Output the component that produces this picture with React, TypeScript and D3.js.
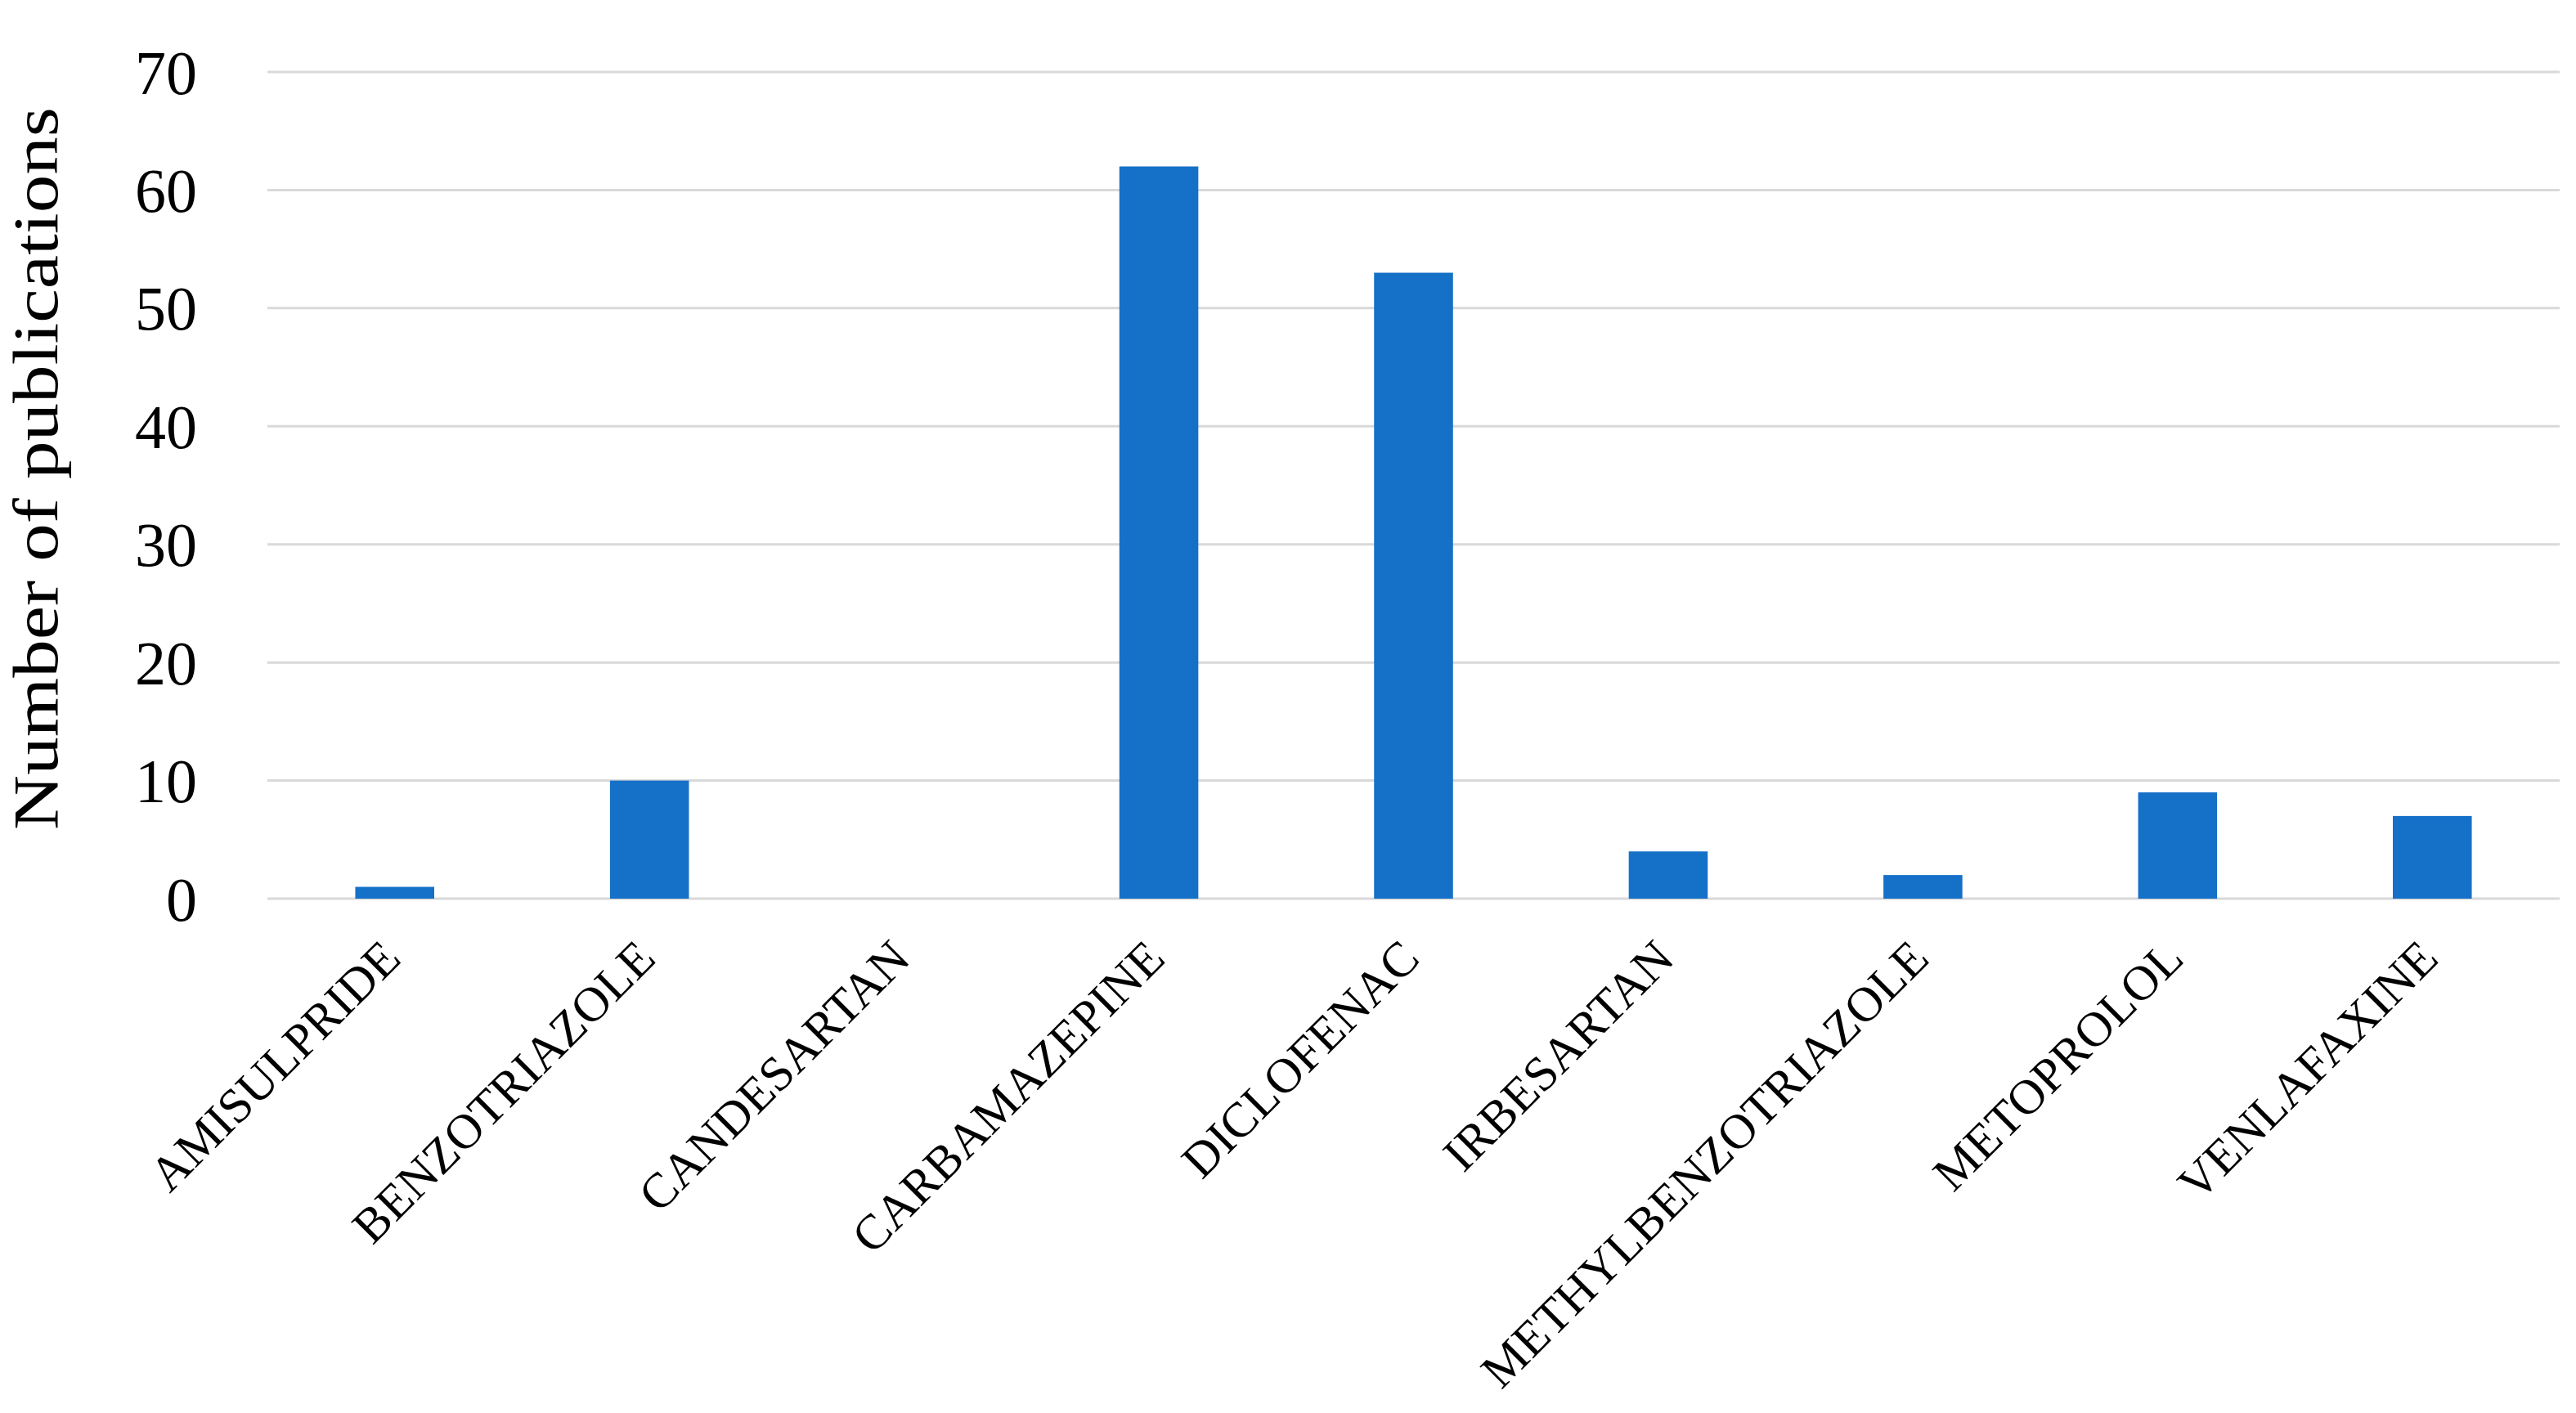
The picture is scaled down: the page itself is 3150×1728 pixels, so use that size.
import { useEffect, useRef } from "react";
import * as d3 from "d3";

const categories = [
  "AMISULPRIDE",
  "BENZOTRIAZOLE",
  "CANDESARTAN",
  "CARBAMAZEPINE",
  "DICLOFENAC",
  "IRBESARTAN",
  "METHYLBENZOTRIAZOLE",
  "METOPROLOL",
  "VENLAFAXINE",
];
const publications = [1, 10, 0, 62, 53, 4, 2, 9, 7];
const yTicks = [0, 10, 20, 30, 40, 50, 60, 70];

const width = 3150;
const height = 1728;
const font = "'Liberation Serif', 'DejaVu Serif', serif";

const App = () => {
  const ref = useRef<SVGSVGElement>(null);

  useEffect(() => {
    const svg = d3.select(ref.current);
    svg.selectAll("*").remove();

    const margin = { top: 88, right: 20, bottom: 629, left: 327 };

    // x: one band per drug, narrow bars centred in each
    const x = d3
      .scaleBand()
      .domain(categories)
      .range([margin.left, width - margin.right])
      .paddingInner(0.69)
      .paddingOuter(0.345);

    const y = d3
      .scaleLinear()
      .domain([0, 70])
      .range([height - margin.bottom, margin.top]);

    // grid lines
    svg
      .append("g")
      .selectAll("line")
      .data(yTicks)
      .enter()
      .append("line")
      .attr("x1", margin.left)
      .attr("x2", width - margin.right)
      .attr("y1", (d) => y(d))
      .attr("y2", (d) => y(d))
      .attr("stroke", "#d9d9d9")
      .attr("stroke-width", 3);

    // y tick labels
    svg
      .append("g")
      .selectAll("text")
      .data(yTicks)
      .enter()
      .append("text")
      .attr("x", 241)
      .attr("y", (d) => y(d))
      .attr("dy", "0.35em")
      .attr("text-anchor", "end")
      .attr("font-family", font)
      .attr("font-size", 76)
      .attr("fill", "#000")
      .text((d) => d);

    // bars
    svg
      .append("g")
      .selectAll("rect")
      .data(publications)
      .enter()
      .append("rect")
      .attr("x", (d, i) => x(categories[i]) as number)
      .attr("y", (d) => y(d))
      .attr("width", x.bandwidth())
      .attr("height", (d) => y(0) - y(d))
      .attr("fill", "#1570c8");

    // category labels, rotated
    const y0 = y(0);
    svg
      .append("g")
      .selectAll("text")
      .data(categories)
      .enter()
      .append("text")
      .attr("transform", (d) => {
        const cx = (x(d) as number) + x.bandwidth() / 2 + 10;
        return `translate(${cx}, ${y0 + 76}) rotate(-45)`;
      })
      .attr("text-anchor", "end")
      .attr("font-family", font)
      .attr("font-size", 60)
      .attr("fill", "#000")
      .text((d) => d);

    // y axis title
    svg
      .append("text")
      .attr("transform", `translate(70, 573) rotate(-90)`)
      .attr("text-anchor", "middle")
      .attr("font-family", font)
      .attr("font-size", 78)
      .attr("textLength", 884)
      .attr("lengthAdjust", "spacingAndGlyphs")
      .attr("fill", "#000")
      .text("Number of publications");
  }, []);

  return (
    <>
      <style>{"body{margin:0}"}</style>
      <svg ref={ref} width={width} height={height} style={{ display: "block", background: "#fff" }}></svg>
    </>
  );
};

export default App;
